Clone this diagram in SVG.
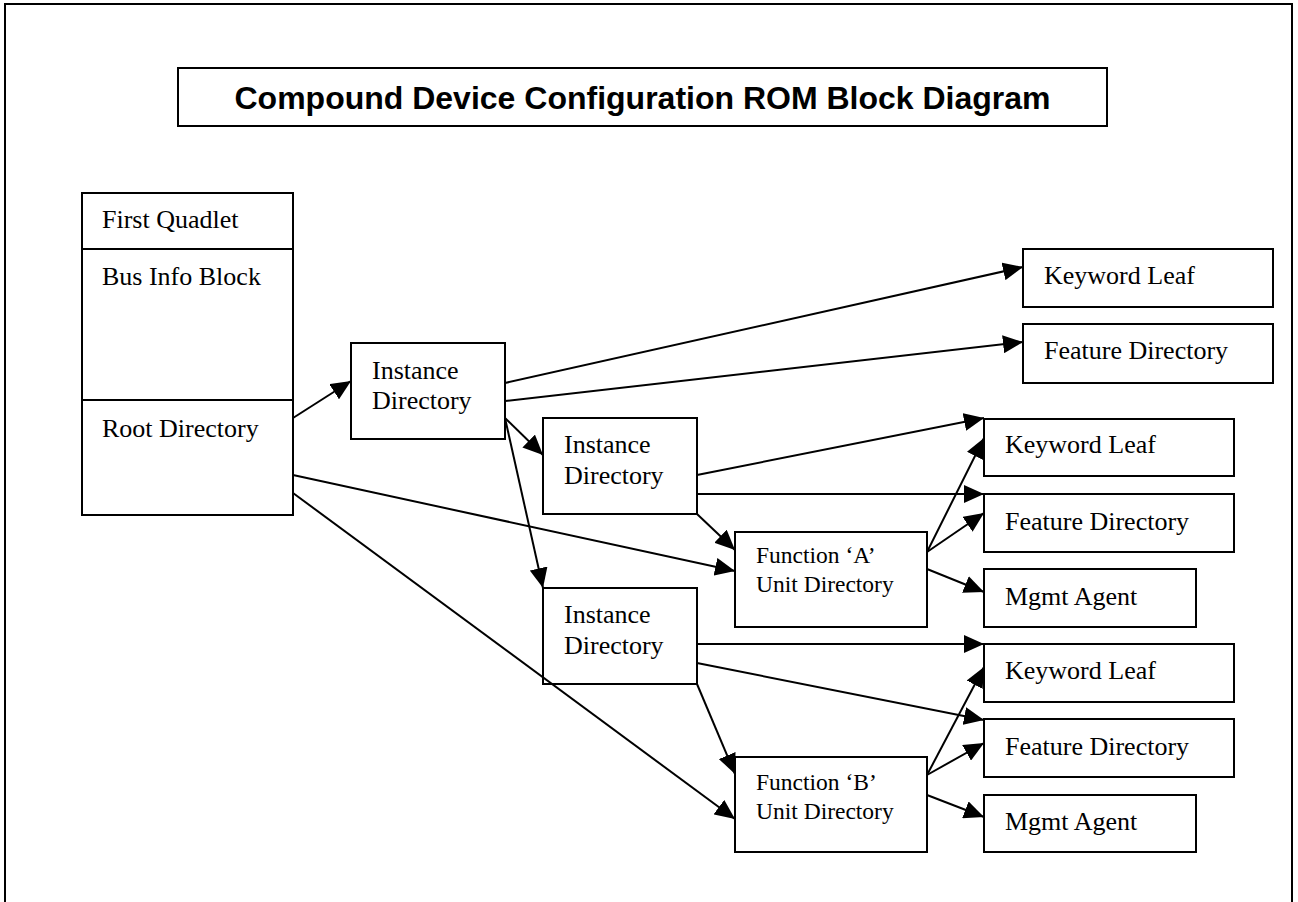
<svg xmlns="http://www.w3.org/2000/svg" width="1298" height="902" viewBox="0 0 1298 902">
<style>
.box{fill:#fff;stroke:#000;stroke-width:2}
.t{font-family:"Liberation Serif","Times New Roman",serif;font-size:26px;fill:#000}
.ts{font-family:"Liberation Serif","Times New Roman",serif;font-size:23.5px;fill:#000}
.title{font-family:"Liberation Sans",Arial,sans-serif;font-size:32px;font-weight:bold;fill:#000}
.c line{stroke:#000;stroke-width:2;marker-end:url(#ah)}
</style>
<defs>
<marker id="ah" markerUnits="userSpaceOnUse" markerWidth="20" markerHeight="18" refX="20" refY="9" orient="auto">
<path d="M0,0 L20,9 L0,18 z" fill="#000"/>
</marker>
</defs>
<rect x="0" y="0" width="1298" height="902" fill="#fff"/>
<rect x="5" y="4" width="1287" height="910" fill="none" stroke="#000" stroke-width="2"/>
<g id="title">
<rect class="box" x="178" y="68" width="929" height="58"/>
<text class="title" x="642.5" y="109" text-anchor="middle">Compound Device Configuration ROM Block Diagram</text>
</g>
<g id="rom">
<rect class="box" x="82" y="193" width="211" height="322"/>
<line x1="82" y1="249" x2="293" y2="249" stroke="#000" stroke-width="2"/>
<line x1="82" y1="400" x2="293" y2="400" stroke="#000" stroke-width="2"/>
<text class="t" x="102" y="228">First Quadlet</text>
<text class="t" x="102" y="285">Bus Info Block</text>
<text class="t" x="102" y="437">Root Directory</text>
</g>
<g id="inst1">
<rect class="box" x="351" y="343" width="154" height="96"/>
<text class="t" x="372" y="379">Instance</text>
<text class="t" x="372" y="409">Directory</text>
</g>
<g id="inst2">
<rect class="box" x="543" y="418" width="154" height="96"/>
<text class="t" x="564" y="453">Instance</text>
<text class="t" x="564" y="484">Directory</text>
</g>
<g id="inst3">
<rect class="box" x="543" y="588" width="154" height="96"/>
<text class="t" x="564" y="623">Instance</text>
<text class="t" x="564" y="654">Directory</text>
</g>
<g id="funcA">
<rect class="box" x="735" y="532" width="192" height="95"/>
<text class="ts" x="756" y="563">Function ‘A’</text>
<text class="ts" x="756" y="592">Unit Directory</text>
</g>
<g id="funcB">
<rect class="box" x="735" y="757" width="192" height="95"/>
<text class="ts" x="756" y="790">Function ‘B’</text>
<text class="ts" x="756" y="819">Unit Directory</text>
</g>
<g id="kl1">
<rect class="box" x="1023" y="249" width="250" height="58"/>
<text class="t" x="1044" y="284">Keyword Leaf</text>
</g>
<g id="fd1">
<rect class="box" x="1023" y="324" width="250" height="59"/>
<text class="t" x="1044" y="359">Feature Directory</text>
</g>
<g id="kl2">
<rect class="box" x="984" y="419" width="250" height="57"/>
<text class="t" x="1005" y="453">Keyword Leaf</text>
</g>
<g id="fd2">
<rect class="box" x="984" y="494" width="250" height="58"/>
<text class="t" x="1005" y="530">Feature Directory</text>
</g>
<g id="ma1">
<rect class="box" x="984" y="569" width="212" height="58"/>
<text class="t" x="1005" y="605">Mgmt Agent</text>
</g>
<g id="kl3">
<rect class="box" x="984" y="644" width="250" height="58"/>
<text class="t" x="1005" y="679">Keyword Leaf</text>
</g>
<g id="fd3">
<rect class="box" x="984" y="719" width="250" height="58"/>
<text class="t" x="1005" y="755">Feature Directory</text>
</g>
<g id="ma2">
<rect class="box" x="984" y="795" width="212" height="57"/>
<text class="t" x="1005" y="830">Mgmt Agent</text>
</g>
<g id="connectors" class="c">
<line x1="293" y1="418" x2="351" y2="381"/>
<line x1="505" y1="383" x2="1023" y2="267"/>
<line x1="505" y1="401" x2="1023" y2="342"/>
<line x1="505" y1="418" x2="543" y2="455"/>
<line x1="505" y1="418" x2="543" y2="588"/>
<line x1="697" y1="475" x2="984" y2="418"/>
<line x1="697" y1="494" x2="984" y2="494"/>
<line x1="697" y1="514" x2="735" y2="550"/>
<line x1="293" y1="475" x2="735" y2="571"/>
<line x1="293" y1="493" x2="735" y2="819"/>
<line x1="697" y1="644" x2="984" y2="644"/>
<line x1="697" y1="663" x2="984" y2="720"/>
<line x1="697" y1="684" x2="735" y2="774"/>
<line x1="927" y1="552" x2="984" y2="438"/>
<line x1="927" y1="552" x2="984" y2="513"/>
<line x1="927" y1="569" x2="984" y2="592"/>
<line x1="927" y1="775" x2="984" y2="667"/>
<line x1="927" y1="775" x2="984" y2="743"/>
<line x1="927" y1="795" x2="984" y2="817"/>
</g>
</svg>
